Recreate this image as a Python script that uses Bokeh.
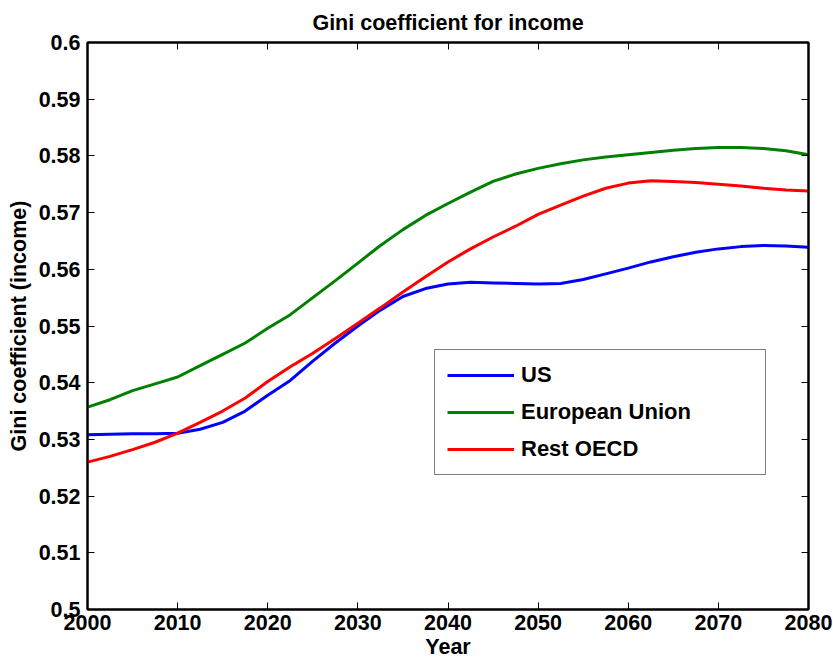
from bokeh.plotting import figure
from bokeh.models import Range1d, LinearAxis, FixedTicker, Legend, LegendItem
from bokeh.embed import file_html
from bokeh.resources import INLINE

years = [2000, 2002.5, 2005, 2007.5, 2010, 2012.5, 2015, 2017.5, 2020, 2022.5,
         2025, 2027.5, 2030, 2032.5, 2035, 2037.5, 2040, 2042.5, 2045, 2047.5,
         2050, 2052.5, 2055, 2057.5, 2060, 2062.5, 2065, 2067.5, 2070, 2072.5,
         2075, 2077.5, 2080]

us = [0.5308, 0.5309, 0.5310, 0.5310, 0.5311, 0.5318, 0.5330, 0.5350, 0.5378, 0.5404,
      0.5438, 0.5470, 0.5500, 0.5528, 0.5552, 0.5566, 0.5574, 0.5577, 0.5576, 0.5575,
      0.5574, 0.5575, 0.5582, 0.5592, 0.5602, 0.5613, 0.5622, 0.5630, 0.5636, 0.5640,
      0.5642, 0.5641, 0.5639]

eu = [0.5357, 0.5370, 0.5386, 0.5398, 0.5410, 0.5430, 0.5450, 0.5470, 0.5496, 0.5520,
      0.5550, 0.5580, 0.5611, 0.5642, 0.5670, 0.5695, 0.5716, 0.5736, 0.5755, 0.5768,
      0.5778, 0.5786, 0.5793, 0.5798, 0.5802, 0.5806, 0.5810, 0.5813, 0.5815, 0.5815,
      0.5813, 0.5809, 0.5802]

rest_oecd = [0.5260, 0.5270, 0.5282, 0.5295, 0.5311, 0.5330, 0.5350, 0.5373, 0.5402, 0.5428,
             0.5452, 0.5478, 0.5505, 0.5532, 0.5560, 0.5587, 0.5613, 0.5636, 0.5657, 0.5676,
             0.5697, 0.5713, 0.5729, 0.5743, 0.5752, 0.5756, 0.5755, 0.5753, 0.5750, 0.5747,
             0.5743, 0.5740, 0.5738]

series_names = ["US", "European Union", "Rest OECD"]
series_colors = ["#0000ff", "#008000", "#ff0000"]

x_ticks = [2000, 2010, 2020, 2030, 2040, 2050, 2060, 2070, 2080]
y_ticks = [0.5, 0.51, 0.52, 0.53, 0.54, 0.55, 0.56, 0.57, 0.58, 0.59, 0.6]
y_tick_labels = ["0.5", "0.51", "0.52", "0.53", "0.54", "0.55", "0.56", "0.57", "0.58", "0.59", "0.6"]

FONT = "Liberation Sans"
FS = "21.5px"

p = figure(width=833, height=664, output_backend="svg", toolbar_location=None,
           x_range=Range1d(2000, 2080), y_range=Range1d(0.5, 0.6),
           min_border_left=87, min_border_right=25, min_border_top=42, min_border_bottom=55)

p.title.text = "Gini coefficient for income"
p.title.text_font = FONT
p.title.text_font_size = FS
p.title.text_font_style = "bold"
p.title.text_color = "black"
p.title.align = "center"
p.title.standoff = 15

p.xgrid.visible = False
p.ygrid.visible = False
p.outline_line_color = "black"
p.outline_line_width = 2
p.background_fill_color = "white"
p.border_fill_color = "white"

renderers = []
for vals, color in zip([us, eu, rest_oecd], series_colors):
    r = p.line(years, vals, line_color=color, line_width=3)
    renderers.append(r)

def style_axis(ax, labels=True):
    ax.axis_line_color = "black"
    ax.axis_line_width = 2
    ax.major_tick_in = 7
    ax.major_tick_out = 0
    ax.minor_tick_line_color = None
    ax.major_tick_line_color = "black"
    ax.major_tick_line_width = 1
    ax.major_label_text_font = FONT
    ax.major_label_text_font_style = "bold"
    ax.axis_label_text_font = FONT
    ax.axis_label_text_font_style = "bold"
    ax.axis_label_text_font_size = FS
    ax.axis_label_text_color = "black"
    if labels:
        ax.major_label_text_font_size = FS
        ax.major_label_text_color = "black"
        ax.major_label_standoff = 6
    else:
        ax.major_label_text_font_size = "1px"
        ax.major_label_text_color = None
        ax.major_label_standoff = 0

xa = p.xaxis[0]
xa.ticker = FixedTicker(ticks=x_ticks)
xa.axis_label = "Year"
style_axis(xa)
xa.major_label_standoff = 5
xa.axis_label_standoff = 2

ya = p.yaxis[0]
ya.ticker = FixedTicker(ticks=y_ticks)
ya.major_label_overrides = dict(zip(y_ticks, y_tick_labels))
ya.axis_label = "Gini coefficient (income)"
style_axis(ya)
ya.axis_label_standoff = 5
ya.major_label_standoff = 7

ra = LinearAxis(ticker=FixedTicker(ticks=y_ticks))
style_axis(ra, labels=False)
p.add_layout(ra, "right")
ta = LinearAxis(ticker=FixedTicker(ticks=x_ticks))
style_axis(ta, labels=False)
p.add_layout(ta, "above")

legend = Legend(items=[LegendItem(label=n, renderers=[r]) for n, r in zip(series_names, renderers)],
                location=(347, 134))
legend.label_text_font = FONT
legend.label_text_font_size = "22px"
legend.label_text_font_style = "bold"
legend.label_text_color = "black"
legend.padding = 12
legend.glyph_width = 67
legend.glyph_height = 22
legend.label_height = 22
legend.label_width = 232
legend.label_standoff = 7
legend.spacing = 11
legend.border_line_color = "black"
legend.border_line_width = 1.5
legend.background_fill_color = "white"
legend.background_fill_alpha = 1
legend.margin = 0
p.add_layout(legend)

open("out.html", "w").write(file_html(p, INLINE))
